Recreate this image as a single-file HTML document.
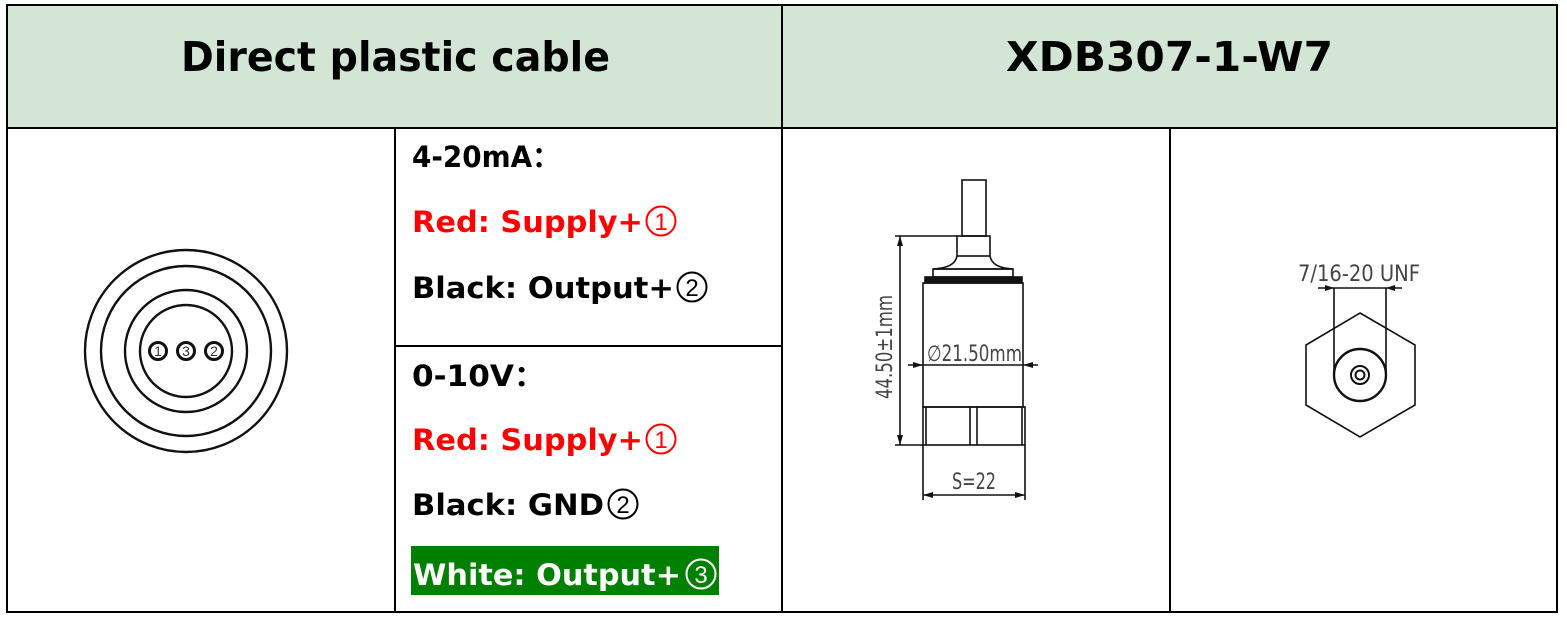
<!DOCTYPE html>
<html><head><meta charset="utf-8"><style>
html,body{margin:0;padding:0;background:#fff;}
svg{display:block;}
.t{font-family:"DejaVu Sans","Liberation Sans","Noto Sans CJK SC",sans-serif;font-weight:bold;font-size:29px;}
.h{font-family:"DejaVu Sans","Liberation Sans",sans-serif;font-weight:bold;font-size:41px;}
.d{font-family:"DejaVu Sans Condensed","Liberation Sans Narrow","Liberation Sans",sans-serif;font-size:22px;fill:#444;}
.n{font-family:"Liberation Sans",sans-serif;font-size:24px;text-anchor:middle;}
</style></head><body>
<svg width="1567" height="619" viewBox="0 0 1567 619" xmlns="http://www.w3.org/2000/svg">
<rect x="7" y="5" width="1550" height="123" fill="#d3e6d6"/>
<g stroke="#000" stroke-width="2" fill="none">
<rect x="7" y="5" width="1550" height="607"/>
<line x1="7" y1="128" x2="1557" y2="128"/>
<line x1="782" y1="5" x2="782" y2="612"/>
<line x1="395" y1="128" x2="395" y2="612"/>
<line x1="1170" y1="128" x2="1170" y2="612"/>
<line x1="395" y1="346" x2="782" y2="346"/>
</g>
<text class="h" x="181" y="71" textLength="429" lengthAdjust="spacingAndGlyphs">Direct plastic cable</text>
<text class="h" x="1006" y="71" textLength="327" lengthAdjust="spacingAndGlyphs">XDB307-1-W7</text>

<g stroke="#111" stroke-width="2.4" fill="none">
<circle cx="186" cy="351" r="101"/>
<circle cx="186" cy="351" r="85"/>
<circle cx="186" cy="351" r="61"/>
<circle cx="186" cy="351" r="46"/>
<circle cx="158" cy="351" r="8.5" stroke-width="3"/>
<circle cx="186" cy="351" r="8.5" stroke-width="3"/>
<circle cx="214" cy="351" r="8.5" stroke-width="3"/>
</g>
<g font-family="Liberation Sans,sans-serif" font-size="14" fill="#333" text-anchor="middle">
<text x="158" y="356">1</text><text x="186" y="356">3</text><text x="214" y="356">2</text>
</g>

<text class="t" x="412" y="167" textLength="148" lengthAdjust="spacingAndGlyphs">4-20mA：</text>
<text class="t" x="412" y="232" fill="#f00" textLength="231" lengthAdjust="spacingAndGlyphs">Red: Supply+</text>
<circle cx="661" cy="221" r="14.5" fill="none" stroke="#f00" stroke-width="2"/>
<text class="n" x="661" y="230" fill="#f00">1</text>
<text class="t" x="412" y="298" textLength="262" lengthAdjust="spacingAndGlyphs">Black: Output+</text>
<circle cx="692" cy="287" r="14.5" fill="none" stroke="#000" stroke-width="2"/>
<text class="n" x="692" y="296">2</text>
<text class="t" x="412" y="386" textLength="133" lengthAdjust="spacingAndGlyphs">0-10V：</text>
<text class="t" x="412" y="450" fill="#f00" textLength="231" lengthAdjust="spacingAndGlyphs">Red: Supply+</text>
<circle cx="661" cy="439" r="14.5" fill="none" stroke="#f00" stroke-width="2"/>
<text class="n" x="661" y="448" fill="#f00">1</text>
<text class="t" x="412" y="515" textLength="192" lengthAdjust="spacingAndGlyphs">Black: GND</text>
<circle cx="623" cy="504" r="14.5" fill="none" stroke="#000" stroke-width="2"/>
<text class="n" x="623" y="513">2</text>
<rect x="411" y="546" width="308" height="49" fill="#008000"/>
<text class="t" x="413" y="585" fill="#fff" textLength="268" lengthAdjust="spacingAndGlyphs">White: Output+</text>
<circle cx="701" cy="574" r="14.5" fill="none" stroke="#fff" stroke-width="2"/>
<text class="n" x="701" y="583" fill="#fff">3</text>

<g stroke="#111" stroke-width="1.6" fill="none">
<rect x="962" y="180" width="24" height="56"/>
<rect x="957" y="236" width="33" height="20"/>
<path d="M957 256 Q955 268 933 269 L1013 269 Q992 268 990 256"/>
<rect x="933" y="269" width="80" height="8"/>
<rect x="925" y="277" width="97" height="6" fill="#111"/>
<rect x="923" y="283" width="100" height="124"/>
<rect x="923" y="407" width="102" height="38"/>
<line x1="926" y1="407" x2="926" y2="445"/>
<line x1="970" y1="407" x2="970" y2="445"/>
<line x1="977" y1="407" x2="977" y2="445"/>
<line x1="1022" y1="407" x2="1022" y2="445"/>
<line x1="900" y1="236" x2="900" y2="445"/>
<line x1="895" y1="236" x2="957" y2="236"/>
<line x1="895" y1="445" x2="923" y2="445"/>
<line x1="908" y1="365" x2="1038" y2="365"/>
<line x1="923" y1="445" x2="923" y2="500"/>
<line x1="1025" y1="445" x2="1025" y2="500"/>
<line x1="923" y1="495" x2="1025" y2="495"/>
</g>
<g fill="#111">
<path d="M900 236 l-3 10 h6z"/><path d="M900 445 l-3 -10 h6z"/>
<path d="M923 365 l-10 -3 v6z"/><path d="M1023 365 l10 -3 v6z"/>
<path d="M923 495 l10 -3 v6z"/><path d="M1025 495 l-10 -3 v6z"/>
</g>
<text class="d" transform="translate(892,347) rotate(-90)" text-anchor="middle" textLength="104" lengthAdjust="spacingAndGlyphs">44.50±1mm</text>
<text class="d" x="927" y="361" textLength="95" lengthAdjust="spacingAndGlyphs">∅21.50mm</text>
<text class="d" x="974" y="489" text-anchor="middle" textLength="44" lengthAdjust="spacingAndGlyphs">S=22</text>

<text class="d" x="1298" y="281" textLength="122" lengthAdjust="spacingAndGlyphs">7/16-20 UNF</text>
<g stroke="#111" stroke-width="1.6" fill="none">
<line x1="1318" y1="288" x2="1402" y2="288"/>
<line x1="1334" y1="288" x2="1334" y2="378"/>
<line x1="1386" y1="288" x2="1386" y2="378"/>
<polygon points="1360,313 1415,345 1415,405 1360,437 1306,405 1306,345"/>
<circle cx="1360" cy="375" r="26" stroke-width="2.4"/>
<circle cx="1360" cy="375" r="9" stroke-width="2"/>
<circle cx="1360" cy="375" r="4.5" stroke-width="2"/>
</g>
<g fill="#111">
<path d="M1334 288 l-9 -3 v6z"/><path d="M1386 288 l9 -3 v6z"/>
</g>
</svg>
</body></html>
